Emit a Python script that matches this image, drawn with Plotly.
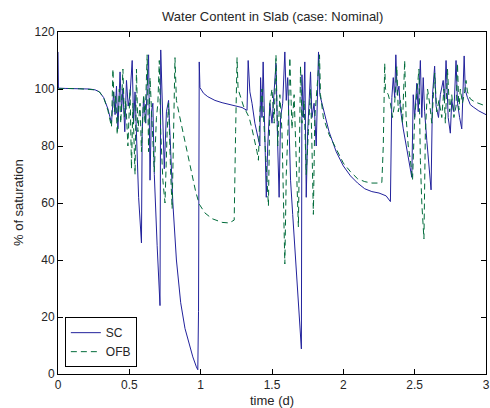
import plotly.graph_objects as go

# ---- data ----
sc_t = [0, 0.003, 0.05, 0.15, 0.22, 0.26, 0.29, 0.32, 0.35, 0.375,
        0.39, 0.40, 0.41, 0.42, 0.435, 0.445, 0.455, 0.468, 0.48, 0.492, 0.505, 0.52, 0.53, 0.54, 0.55,
        0.565, 0.585, 0.59, 0.60, 0.615, 0.625, 0.635, 0.645, 0.655, 0.665, 0.675, 0.695, 0.715, 0.72,
        0.73, 0.745, 0.76, 0.775, 0.79, 0.805, 0.83, 0.86, 0.89, 0.92, 0.945, 0.97, 0.98, 0.985, 0.99,
        0.995, 1.02, 1.05, 1.1, 1.15, 1.2, 1.25, 1.29, 1.325,
        1.333, 1.345, 1.36, 1.38, 1.40, 1.415, 1.42, 1.43, 1.438, 1.45, 1.46, 1.47, 1.485, 1.50, 1.515,
        1.528, 1.54, 1.55, 1.56, 1.575, 1.59, 1.60, 1.61, 1.625, 1.63, 1.645, 1.66, 1.675, 1.69, 1.70,
        1.706, 1.71, 1.72, 1.73, 1.74, 1.75, 1.77, 1.78, 1.795, 1.81, 1.826, 1.835,
        1.86, 1.9, 1.95, 2.0, 2.05, 2.1, 2.15, 2.2, 2.25, 2.3, 2.33,
        2.34, 2.35, 2.36, 2.368, 2.378, 2.39, 2.40, 2.42, 2.44, 2.46, 2.48, 2.49, 2.50, 2.515, 2.525,
        2.54, 2.55, 2.56, 2.57, 2.585, 2.60, 2.615, 2.625, 2.64, 2.65, 2.667, 2.68, 2.70, 2.71, 2.72,
        2.735, 2.75, 2.76, 2.775, 2.79, 2.80, 2.815, 2.83, 2.847, 2.855, 2.87, 2.89, 2.91, 2.95, 3.0]
sc_v = [113, 100.3, 100.2, 100.1, 100, 99.7, 99, 97, 93, 88,
        99, 91, 101, 86, 106, 92, 100, 85, 103, 94, 98, 110, 88, 99, 84,
        62, 46, 85, 97, 88, 101, 112, 68, 92, 95, 70, 45, 24, 113.7,
        98, 72, 92, 96, 78, 60, 40, 25, 16, 10, 6, 2.5, 1.5, 22, 109.5,
        100.5, 98.5, 97.3, 96, 95.2, 94.6, 94.2, 93.5, 92.5,
        110, 99, 95, 88, 84, 80, 104, 90, 109.5, 85, 62, 80, 95, 88, 98,
        109, 80, 62, 90, 95, 113, 96, 104, 80, 68, 56, 44, 33, 20, 14,
        8.8, 105, 90, 109.5, 62, 85, 106, 90, 95, 80, 113, 98,
        93, 85, 78, 73, 69.5, 67, 65, 64, 63.5, 62.5, 60.5,
        97, 104, 97, 112, 98, 101, 93, 86, 80, 74, 69, 98, 90, 102, 92,
        110, 90, 104, 92, 82, 72, 64.6, 98, 108, 94, 90, 98, 103, 96, 110,
        90, 84.5, 96, 92, 110, 95, 90, 86, 111.6, 99.6, 97, 94.5, 93.7, 92.3, 91]

ofb_t = [0, 0.05, 0.15, 0.22, 0.26, 0.29, 0.32, 0.35, 0.375,
         0.385, 0.395, 0.405, 0.415, 0.43, 0.44, 0.455, 0.465, 0.475, 0.49, 0.505, 0.515, 0.525, 0.54,
         0.55, 0.56, 0.575, 0.585, 0.6, 0.61, 0.625, 0.635, 0.645, 0.66, 0.675, 0.69, 0.7, 0.71, 0.72,
         0.735, 0.75, 0.765, 0.775, 0.79, 0.80, 0.82, 0.83,
         0.85, 0.88, 0.91, 0.94, 0.965, 0.99, 1.03, 1.08, 1.15, 1.2, 1.235, 1.245, 1.255,
         1.262, 1.28, 1.30, 1.32, 1.34, 1.36, 1.38, 1.395, 1.405, 1.415, 1.43, 1.445, 1.46, 1.475, 1.485,
         1.50, 1.515, 1.528, 1.54, 1.555, 1.57, 1.58, 1.59, 1.60, 1.615, 1.625, 1.64, 1.655, 1.67, 1.685,
         1.70, 1.71, 1.725, 1.74, 1.755, 1.77, 1.78, 1.79, 1.80, 1.815, 1.833, 1.84,
         1.86, 1.9, 1.93, 1.97, 2.0, 2.05, 2.1, 2.15, 2.2, 2.25, 2.27, 2.28, 2.29,
         2.295, 2.315, 2.33, 2.345, 2.36, 2.375, 2.385, 2.40, 2.415, 2.43, 2.44, 2.455, 2.47, 2.485,
         2.50, 2.515, 2.53, 2.54, 2.55, 2.565, 2.575, 2.59, 2.605, 2.62, 2.64, 2.655, 2.67, 2.69, 2.705,
         2.715, 2.73, 2.745, 2.76, 2.775, 2.79, 2.80, 2.81, 2.82, 2.835, 2.85, 2.86,
         2.87, 2.89, 2.92, 2.95, 3.0]
ofb_v = [100, 100.2, 100.1, 100, 99.7, 99, 97, 92.5, 86.7,
         107, 92, 98, 84, 100, 88, 107, 90, 96, 80, 100, 72, 95, 70,
         107, 85, 95, 78, 98, 88, 112, 78, 104, 85, 71, 90, 95, 110, 85,
         68, 60, 85, 95, 70, 58, 111, 96,
         91, 84, 77, 70, 64, 59.6, 56.5, 54.5, 53.2, 53, 54, 85, 111,
         100, 97, 94, 92, 90, 86, 82, 78, 75, 92, 100, 86, 75, 59, 95,
         100, 88, 112, 80, 98, 85, 60, 38.6, 70, 90, 111, 86, 98, 75, 51.6,
         108, 88, 96, 70, 85, 100, 80, 56, 90, 100, 112, 98,
         90, 84, 81, 76.5, 74, 71, 68.5, 67.5, 67, 67, 67.2, 80, 109,
         100, 98, 95, 90, 95, 108, 92, 96, 88, 110, 90, 80, 75, 68,
         90, 100, 107, 75, 60, 47.4, 85, 100, 95, 88, 105.6, 92, 96, 90, 100,
         88, 107, 92, 98, 90, 94, 109, 92.6, 100, 95, 99, 103,
         99, 96.5, 95.5, 95, 94]

x_ticks = [0, 0.5, 1, 1.5, 2, 2.5, 3]
x_tick_labels = ["0", "0.5", "1", "1.5", "2", "2.5", "3"]
y_ticks = [0, 20, 40, 60, 80, 100, 120]

FONT = "Liberation Sans, Arial, Helvetica, sans-serif"
TXT = "#262626"

fig = go.Figure()
fig.add_trace(go.Scatter(x=sc_t, y=sc_v, mode="lines", name="SC",
                         line=dict(color="#22229c", width=1)))
fig.add_trace(go.Scatter(x=ofb_t, y=ofb_v, mode="lines", name="OFB",
                         line=dict(color="#006b3a", width=1, dash="6px,4px")))

axis_common = dict(showline=True, linecolor="black", linewidth=1, mirror="ticks",
                   ticks="inside", ticklen=5, tickcolor="black", showgrid=False,
                   zeroline=False, tickfont=dict(family=FONT, size=12, color=TXT))

fig.update_layout(
    width=490, height=408,
    margin=dict(l=58, r=0, t=32, b=34),
    paper_bgcolor="white", plot_bgcolor="white",
    showlegend=True,
    legend=dict(x=0.016, y=0.02, xanchor="left", yanchor="bottom",
                bgcolor="white", bordercolor="black", borderwidth=1,
                entrywidth=80, tracegroupgap=0,
                font=dict(family=FONT, size=12, color=TXT)),
    xaxis=dict(range=[0, 3], tickvals=x_ticks, ticktext=x_tick_labels,
               ticklabeloverflow="allow", **axis_common),
    yaxis=dict(range=[0, 120], tickvals=y_ticks, **axis_common),
    annotations=[
        dict(text="Water Content in Slab (case: Nominal)", x=0.5, y=1, xref="paper", yref="paper",
             xanchor="center", yanchor="bottom", yshift=6, showarrow=False,
             font=dict(family=FONT, size=13, color=TXT)),
        dict(text="time (d)", x=0.5, y=0, xref="paper", yref="paper",
             xanchor="center", yanchor="top", yshift=-17, showarrow=False,
             font=dict(family=FONT, size=13, color=TXT)),
        dict(text="% of saturation", x=0, y=0.5, xref="paper", yref="paper",
             xanchor="center", yanchor="middle", xshift=-40, textangle=-90, showarrow=False,
             font=dict(family=FONT, size=13, color=TXT)),
    ],
)

fig.write_html("out.html")
